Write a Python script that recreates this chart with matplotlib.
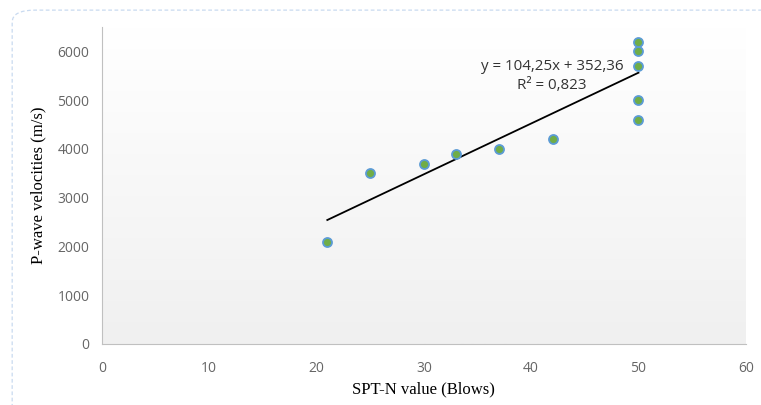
import numpy as np
import matplotlib.pyplot as plt
from matplotlib.patches import FancyBboxPatch

spt_n = [21, 25, 30, 33, 37, 42, 50, 50, 50, 50, 50]
vp = [2100, 3500, 3700, 3900, 4000, 4200, 4600, 5000, 5700, 6000, 6200]
slope, intercept = 104.25, 352.36
x_ticks = [0, 10, 20, 30, 40, 50, 60]
y_ticks = [0, 1000, 2000, 3000, 4000, 5000, 6000]

fig = plt.figure(figsize=(7.61, 4.05), dpi=100)
ax = fig.add_axes([0.134, 0.151, 0.846, 0.782])

# rounded dashed frame around the chart
frame = FancyBboxPatch((0.016, -0.2), 1.2, 1.175, boxstyle="round,pad=0,rounding_size=0.03",
                       transform=fig.transFigure, fill=False, ec='#c9daf0', lw=0.9,
                       ls=(0, (3, 2)), zorder=0)
fig.patches.append(frame)

ymax = 6500
grad = np.linspace(0, 1, 256).reshape(-1, 1)
ax.imshow(grad, extent=[0, 60, 0, ymax], aspect='auto', origin='lower',
          cmap=plt.matplotlib.colors.LinearSegmentedColormap.from_list('g', ['#f0f0f0', '#ffffff']),
          zorder=0)

xs = np.array([min(spt_n), max(spt_n)])
ax.plot(xs, slope * xs + intercept, color='black', lw=1.3, zorder=2)
ax.scatter(spt_n, vp, s=42, c='#70ad47', edgecolors='#5b9bd5', linewidths=1.3, zorder=3)

ax.text(41.95, 5700, 'y = 104,25x + 352,36', ha='center', va='center',
        fontsize=10.9, family='Open Sans', color='#333333')
ax.text(41.95, 5300, 'R² = 0,823', ha='center', va='center',
        fontsize=10.9, family='Open Sans', color='#333333')

ax.set_xlim(0, 60)
ax.set_ylim(0, ymax)
ax.set_xticks(x_ticks)
ax.set_yticks(y_ticks)
ax.tick_params(length=0, labelsize=10, labelcolor='#666666', pad=9)
ax.tick_params(axis='x', pad=12)
for lbl in ax.get_xticklabels() + ax.get_yticklabels():
    lbl.set_family('Open Sans')
for s in ['top', 'right']:
    ax.spines[s].set_visible(False)
for s in ['left', 'bottom']:
    ax.spines[s].set_color('#c0c0c0')
ax.set_xlabel('SPT-N value (Blows)', family='Liberation Serif', fontsize=12, labelpad=4)
ax.set_ylabel('P-wave velocities (m/s)', family='Liberation Serif', fontsize=12, labelpad=8)

fig.savefig('out.png', dpi=100)
